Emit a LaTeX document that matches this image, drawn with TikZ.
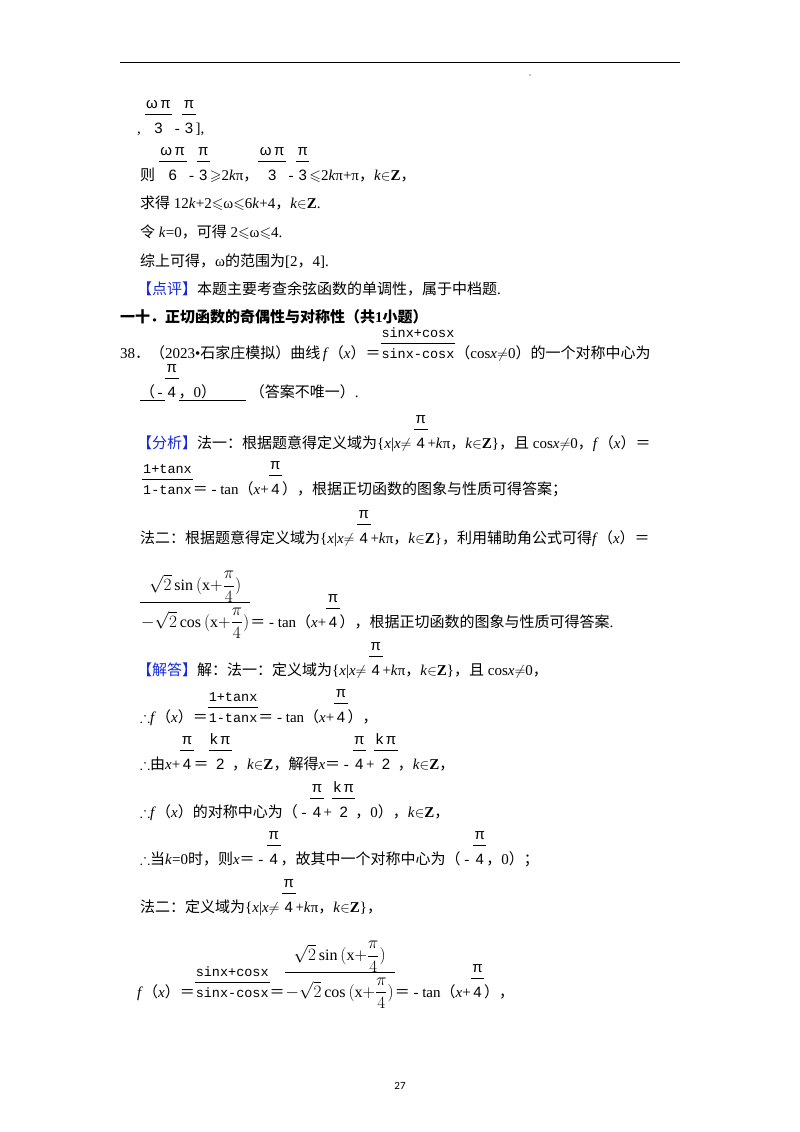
\documentclass[tikz,border=0pt]{standalone}
\usepackage{amsmath,amssymb}
\usepackage{fontspec}
\setmainfont{Liberation Serif}
\newfontfamily\zhf{Noto Sans CJK SC}
\newcommand\zh[1]{{\zhf #1}}
\newfontfamily\sfm{Liberation Sans}
\newfontfamily\ttm{Liberation Mono}
\newfontfamily\pn{Carlito}
\definecolor{tagblue}{RGB}{20,40,220}
\newcommand\Z{\textbf{Z}}
\newcommand\kz{\textit{k}$\in$\Z}
\newcommand\fr[2]{{\setlength\tabcolsep{1.5pt}\setlength\arrayrulewidth{0.8pt}\begin{tabular}[b]{c}{\sfm #1}\\\hline\rule{0pt}{18pt}{\sfm #2}\end{tabular}}}
\newcommand\frt[2]{{\setlength\tabcolsep{1pt}\setlength\arrayrulewidth{0.8pt}\begin{tabular}[b]{c}{\ttm\fontsize{13.5}{16}\selectfont #1}\\\hline\rule{0pt}{14pt}{\ttm\fontsize{13.5}{16}\selectfont #2}\end{tabular}}}
\newcommand\bigfr{{\setlength\tabcolsep{1pt}\setlength\arrayrulewidth{0.8pt}\fontsize{16}{19}\selectfont\begin{tabular}[b]{c}$\sqrt{2}\,\mathrm{sin}\,(\mathrm{x}{+}\dfrac{\pi}{4})$\\[2pt]\hline\rule{0pt}{24pt}$-\sqrt{2}\,\mathrm{cos}\,(\mathrm{x}{+}\dfrac{\pi}{4})$\end{tabular}}}
\newcommand\pq{\fr{π}{4}}
\tikzset{ln/.style={anchor=base west,inner sep=0pt,font=\fontsize{15}{18}\selectfont}}
\begin{document}
\begin{tikzpicture}[x=1pt,y=-1pt]
\useasboundingbox (0,0) rectangle (800,1132);
\fill[white] (0,0) rectangle (800,1132);
\draw[line width=1pt] (120,63) coordinate (ra) -- (680,63) coordinate (rb);
\fill (530,75) circle (0.6);
\node[ln] (l1) at (137,133) {,\ \fr{ω\,π}{3}\,-\,\fr{π}{3}],};
\node[ln] (l2) at (140,180) {\zh{则}\ \fr{ω\,π}{6}\,-\,\fr{π}{3}$\geqslant$2\textit{k}π\zh{，}\fr{ω\,π}{3}\,-\,\fr{π}{3}$\leqslant$2\textit{k}π+π\zh{，}\kz\zh{，}};
\node[ln] (l3) at (140,208) {\zh{求得} 12\textit{k}+2$\leqslant$ω$\leqslant$6\textit{k}+4\zh{，}\kz.};
\node[ln] (l4) at (140,237) {\zh{令} \textit{k}=0\zh{，可得} 2$\leqslant$ω$\leqslant$4.};
\node[ln] (l5) at (140,266) {\zh{综上可得，}ω\zh{的范围为}[2\zh{，}4].};
\node[ln] (l6) at (137,294) {{\color{tagblue}\zh{【点评】}}\zh{本题主要考查余弦函数的单调性，属于中档题}.};
\node[ln] (l7) at (120,322) {\zh{\bfseries 一十．正切函数的奇偶性与对称性（共}\textbf{1}\zh{\bfseries 小题）}};
\node[ln] (l8) at (120,358) {38\zh{．（}2023•\zh{石家庄模拟）曲线}\,\textit{f}\zh{（}\textit{x}\zh{）＝}\frt{sinx+cosx}{sinx-cosx}\zh{（}cos\textit{x}$\neq$0\zh{）的一个对称中心为}};
\node[ln] (l9) at (140,397) {\underline{\zh{（}\,-\,}\pq\underline{\zh{，}0\zh{）}\hspace{30pt}}\ \zh{（答案不唯一）}.};
\node[ln] (l10) at (137,448) {{\color{tagblue}\zh{【分析】}}\zh{法一：根据题意得定义域为}\{\textit{x}|\textit{x}$\neq$\,\pq+\textit{k}π\zh{，}\kz\}\zh{，且} cos\textit{x}$\neq$0\zh{，}\textit{f}\zh{（}\textit{x}\zh{）＝}};
\node[ln] (l11) at (142,494) {\frt{1+tanx}{1-tanx}\zh{＝} - tan\zh{（}\textit{x}+\pq\zh{），根据正切函数的图象与性质可得答案；}};
\node[ln] (l12) at (140,543) {\zh{法二：根据题意得定义域为}\{\textit{x}|\textit{x}$\neq$\,\pq+\textit{k}π\zh{，}\kz\}\zh{，利用辅助角公式可得}\textit{f}\zh{（}\textit{x}\zh{）＝}};
\node[ln] (l13) at (140,627) {\bigfr\zh{＝} - tan\zh{（}\textit{x}+\pq\zh{），根据正切函数的图象与性质可得答案}.};
\node[ln] (l14) at (137,675) {{\color{tagblue}\zh{【解答】}}\zh{解：法一：定义域为}\{\textit{x}|\textit{x}$\neq$\,\pq+\textit{k}π\zh{，}\kz\}\zh{，且} cos\textit{x}$\neq$0\zh{，}};
\node[ln] (l15) at (140,722) {$\therefore$\textit{f}\zh{（}\textit{x}\zh{）＝}\frt{1+tanx}{1-tanx}\zh{＝} - tan\zh{（}\textit{x}+\pq\zh{），}};
\node[ln] (l16) at (140,769) {$\therefore$\zh{由}\textit{x}+\pq\zh{＝}\fr{k\,π}{2}\zh{，}\kz\zh{，解得}\textit{x}\zh{＝} - \pq+\fr{k\,π}{2}\zh{，}\kz\zh{，}};
\node[ln] (l17) at (140,817) {$\therefore$\textit{f}\zh{（}\textit{x}\zh{）的对称中心为（} - \pq+\fr{k\,π}{2}\zh{，}0\zh{），}\kz\zh{，}};
\node[ln] (l18) at (140,864) {$\therefore$\zh{当}\textit{k}=0\zh{时，则}\textit{x}\zh{＝} - \pq\zh{，故其中一个对称中心为（} - \pq\zh{，}0\zh{）；}};
\node[ln] (l19) at (140,912) {\zh{法二：定义域为}\{\textit{x}|\textit{x}$\neq$\,\pq+\textit{k}π\zh{，}\kz\}\zh{，}};
\node[ln] (l20) at (137,997) {\textit{f}\zh{（}\textit{x}\zh{）＝}\frt{sinx+cosx}{sinx-cosx}\zh{＝}\bigfr\zh{＝} - tan\zh{（}\textit{x}+\pq\zh{），}};
\node[anchor=center,font=\pn\fontsize{11}{13}\selectfont] (pg) at (400,1086) {27};
\end{tikzpicture}
\end{document}
